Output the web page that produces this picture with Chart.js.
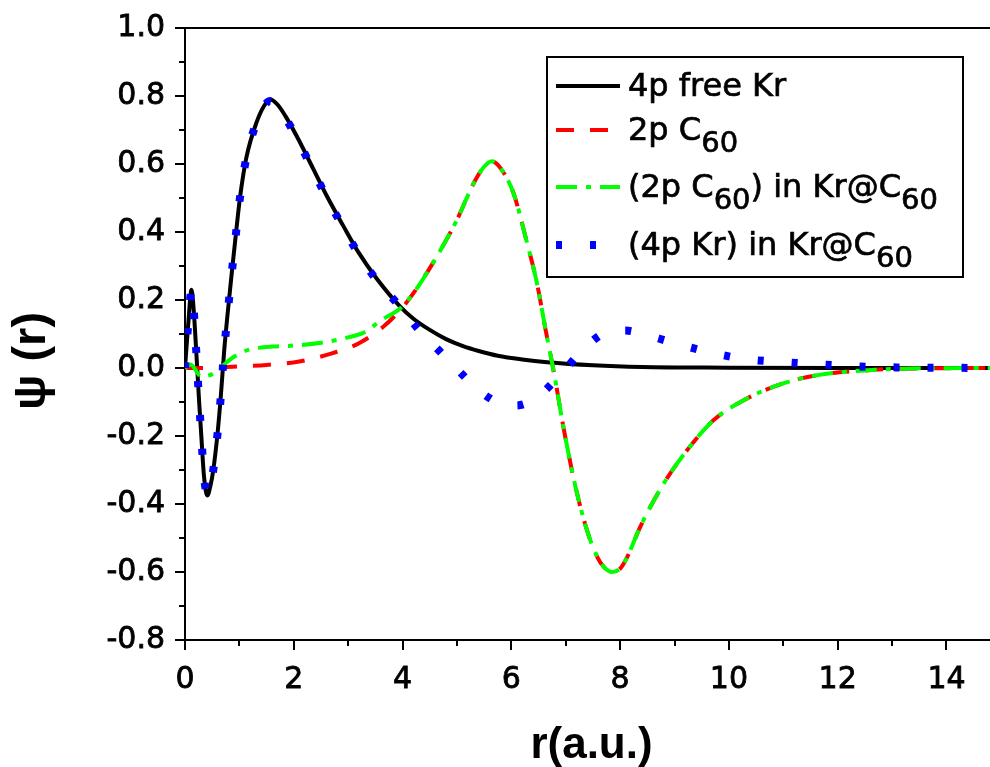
<!DOCTYPE html>
<html>
<head>
<meta charset="utf-8">
<title>Psi(r) Kr@C60</title>
<script src="https://cdn.jsdelivr.net/npm/chart.js@4.4.1/dist/chart.umd.min.js"></script>
<style>
    html, body { margin: 0; padding: 0; background: #fff; }
    #wrap { width: 990px; height: 767px; }
</style>
</head>
<body>
<div id="wrap"><canvas id="psiChart" width="990" height="767"></canvas></div>
<script>
// 4p free Kr
const krR   = [0, 0.06, 0.12, 0.16, 0.21, 0.26, 0.30, 0.35, 0.41, 0.47, 0.52, 0.60, 0.66, 0.72, 0.79, 0.86, 0.94, 1.01, 1.13, 1.31,
               1.45, 1.57, 1.70, 1.85, 2.06, 2.36, 2.61, 2.91, 3.19, 3.53, 3.96, 4.2, 4.5, 4.8, 5.1, 5.4, 5.75, 6.2, 6.66, 7.50, 8.40, 10.0, 12.0, 14.8];
const krPsi = [0, 0.13, 0.23, 0.17, 0.04, -0.10, -0.20, -0.32, -0.375, -0.345, -0.30, -0.19, -0.08, 0.05, 0.17, 0.28, 0.40, 0.50, 0.62, 0.72,
               0.77, 0.79, 0.775, 0.74, 0.68, 0.585, 0.505, 0.418, 0.34, 0.262, 0.18, 0.145, 0.112, 0.085, 0.065, 0.05, 0.036, 0.025, 0.017, 0.008, 0.003, 0.001, 0, 0];

// 2p C60
const c60R   = [0, 0.3, 0.7, 1.0, 1.5, 2.1, 2.7, 3.2, 3.65, 3.96, 4.2, 4.63, 5.0, 5.31, 5.5, 5.64, 5.8, 6.04, 6.29, 6.47,
                6.63, 6.75, 6.84, 6.93, 7.03, 7.18, 7.39, 7.58, 7.7, 7.85, 8.0, 8.13, 8.37, 8.8, 9.23, 9.72, 10.28, 11.0, 11.63, 12.42, 13.2, 14.8];
const c60Psi = [0, 0, 0.002, 0.005, 0.009, 0.019, 0.043, 0.073, 0.122, 0.171, 0.22, 0.328, 0.436, 0.544, 0.592, 0.608, 0.588, 0.514, 0.367, 0.25,
                0.112, 0.014, -0.065, -0.15, -0.235, -0.35, -0.477, -0.556, -0.585, -0.6, -0.59, -0.556, -0.467, -0.34, -0.242, -0.153, -0.094, -0.045, -0.021, -0.008, -0.002, 0];

// (2p C60) in Kr@C60
const c60InR   = [0, 0.1, 0.3, 0.5, 0.7, 0.9, 1.1, 1.3, 1.6, 2.0, 2.5, 3.0, 3.3, 3.6, 3.96, 4.2, 4.63, 5.0, 5.31, 5.5, 5.64, 5.8, 6.04, 6.29, 6.47,
                  6.63, 6.75, 6.84, 6.93, 7.03, 7.18, 7.39, 7.58, 7.7, 7.85, 8.0, 8.13, 8.37, 8.8, 9.23, 9.72, 10.28, 11.0, 11.63, 12.42, 13.2, 14.8];
const c60InPsi = [0, 0.01, -0.025, -0.018, 0.008, 0.033, 0.05, 0.058, 0.063, 0.066, 0.074, 0.09, 0.105, 0.14, 0.176, 0.22, 0.328, 0.436, 0.544, 0.592, 0.608, 0.588, 0.514, 0.367, 0.25,
                  0.112, 0.014, -0.065, -0.15, -0.235, -0.35, -0.477, -0.556, -0.585, -0.6, -0.59, -0.556, -0.467, -0.34, -0.242, -0.153, -0.094, -0.045, -0.021, -0.008, -0.002, 0];

// (4p Kr) in Kr@C60
const krInR   = [0, 0.06, 0.12, 0.16, 0.21, 0.26, 0.30, 0.35, 0.41, 0.47, 0.52, 0.60, 0.66, 0.72, 0.79, 0.86, 0.94, 1.01, 1.13, 1.31,
                 1.45, 1.57, 1.70, 1.85, 2.06, 2.36, 2.61, 2.91, 3.19, 3.53, 3.90, 4.33, 4.69, 5.03, 5.42, 5.87, 6.10, 6.50, 6.99, 7.34,
                 7.79, 8.10, 8.37, 8.96, 9.60, 10.31, 10.95, 11.63, 12.30, 13.0, 14.8];
const krInPsi = [0, 0.13, 0.23, 0.17, 0.04, -0.10, -0.20, -0.32, -0.37, -0.34, -0.30, -0.19, -0.08, 0.05, 0.17, 0.28, 0.40, 0.50, 0.62, 0.72,
                 0.77, 0.785, 0.77, 0.735, 0.675, 0.58, 0.50, 0.413, 0.335, 0.257, 0.19, 0.107, 0.048, -0.008, -0.068, -0.108, -0.11, -0.082, -0.004, 0.058,
                 0.107, 0.11, 0.102, 0.075, 0.048, 0.026, 0.018, 0.011, 0.005, 0.002, 0];

// labelled ticks
const xMajor = [0, 2, 4, 6, 8, 10, 12, 14];
const yMajor = [-0.8, -0.6, -0.4, -0.2, 0.0, 0.2, 0.4, 0.6, 0.8, 1.0];

const tickFont = '"DejaVu Sans", sans-serif';
const titleFont = '"Liberation Sans", Arial, sans-serif';

function pts(xs, ys) {
    return xs.map((x, i) => ({ x: x, y: ys[i] }));
}

function isMajor(list, v) {
    return list.some(m => Math.abs(m - v) < 1e-6);
}

// minor ticks, top frame line, axis titles and the boxed legend with subscripts
const decor = {
    id: 'decor',
    afterDraw(chart) {
        const { ctx, chartArea: a, scales: { x, y } } = chart;
        ctx.save();
        ctx.strokeStyle = '#000';
        ctx.lineWidth = 2;
        ctx.setLineDash([]);

        ctx.beginPath();
        ctx.moveTo(a.left - 1, a.top);
        ctx.lineTo(a.right, a.top);
        x.ticks.forEach(t => {
            const px = Math.round(x.getPixelForValue(t.value));
            const len = isMajor(xMajor, t.value) ? 10 : 6;
            ctx.moveTo(px, a.bottom);
            ctx.lineTo(px, a.bottom + len);
        });
        y.ticks.forEach(t => {
            const py = Math.round(y.getPixelForValue(t.value));
            const len = isMajor(yMajor, t.value) ? 10 : 6;
            ctx.moveTo(a.left, py);
            ctx.lineTo(a.left - len, py);
        });
        ctx.stroke();

        // axis titles
        ctx.fillStyle = '#000';
        ctx.font = 'bold 44px ' + titleFont;
        ctx.textAlign = 'center';
        ctx.textBaseline = 'alphabetic';
        ctx.fillText('r(a.u.)', (a.left + a.right) / 2 + 4, 758);

        ctx.save();
        ctx.translate(45, 361);
        ctx.rotate(-Math.PI / 2);
        ctx.font = 'bold 47px ' + titleFont;
        ctx.fillText('\u03C8 (r)', 0, 0);
        ctx.restore();

        // legend
        const bx = a.left + 362, by = a.top + 29;
        ctx.lineWidth = 2;
        ctx.strokeRect(bx, by, 416, 220);
        const baselines = [39, 83, 140, 198];
        ctx.textAlign = 'left';
        chart.data.datasets.forEach((ds, i) => {
            const base = by + baselines[i];
            ctx.save();
            ctx.strokeStyle = ds.borderColor;
            ctx.lineWidth = ds.borderWidth;
            ctx.setLineDash(ds.borderDash || []);
            ctx.beginPath();
            ctx.moveTo(bx + 9, base - 10);
            ctx.lineTo(bx + 73, base - 10);
            ctx.stroke();
            ctx.restore();

            let tx = bx + 81;
            ctx.lineWidth = 0.7;
            ds.label.split(/_\{|\}/).forEach((part, k) => {
                if (!part) return;
                const sub = k % 2 === 1;
                ctx.font = (sub ? '29px ' : '32px ') + tickFont;
                const ty = base + (sub ? 12 : 0);
                ctx.strokeText(part, tx, ty);
                ctx.fillText(part, tx, ty);
                tx += ctx.measureText(part).width;
            });
        });
        ctx.restore();
    }
};

const ctx = document.getElementById('psiChart').getContext('2d');
const psiChart = new Chart(ctx, {
    type: 'line',
    data: {
        datasets: [{
            label: '4p free Kr',
            data: pts(krR, krPsi),
            borderColor: '#000000',
            borderWidth: 4,
            order: 3
        }, {
            label: '2p C_{60}',
            data: pts(c60R, c60Psi),
            borderColor: '#ff0000',
            borderWidth: 4,
            borderDash: [18, 16],
            order: 2
        }, {
            label: '(2p C_{60}) in Kr@C_{60}',
            data: pts(c60InR, c60InPsi),
            borderColor: '#00ff00',
            borderWidth: 4,
            borderDash: [21, 9, 5, 9],
            order: 1
        }, {
            label: '(4p Kr) in Kr@C_{60}',
            data: pts(krInR, krInPsi),
            borderColor: '#0000ff',
            borderWidth: 8,
            borderDash: [6, 28],
            order: 0
        }]
    },
    options: {
        responsive: false,
        animation: false,
        devicePixelRatio: 1,
        layout: { padding: { top: 28, right: 0, left: 0, bottom: 0 } },
        elements: {
            point: { radius: 0, hoverRadius: 0 },
            line: { cubicInterpolationMode: 'monotone', fill: false, borderCapStyle: 'butt' }
        },
        plugins: {
            legend: { display: false },
            tooltip: { enabled: false }
        },
        scales: {
            x: {
                type: 'linear',
                min: 0,
                max: 14.8,
                border: { display: true, color: '#000', width: 2 },
                grid: { display: false, drawTicks: false },
                ticks: {
                    stepSize: 1,
                    autoSkip: false,
                    includeBounds: false,
                    maxRotation: 0,
                    padding: 22,
                    color: '#000',
                    textStrokeColor: '#000',
                    textStrokeWidth: 0.8,
                    font: { family: tickFont, size: 30 },
                    callback: v => isMajor(xMajor, v) ? String(Math.round(v)) : ''
                },
                afterFit: s => { s.height = 127; }
            },
            y: {
                type: 'linear',
                min: -0.8,
                max: 1.0,
                border: { display: true, color: '#000', width: 2 },
                grid: { display: false, drawTicks: true, tickLength: 20 },
                ticks: {
                    stepSize: 0.1,
                    autoSkip: false,
                    includeBounds: false,
                    padding: 0,
                    color: '#000',
                    textStrokeColor: '#000',
                    textStrokeWidth: 0.8,
                    font: { family: tickFont, size: 30 },
                    callback: v => isMajor(yMajor, v) ? (Math.abs(v) < 1e-6 ? 0 : v).toFixed(1) : ''
                },
                afterFit: s => { s.width = 185; }
            }
        }
    },
    plugins: [decor]
});
</script>
</body>
</html>
